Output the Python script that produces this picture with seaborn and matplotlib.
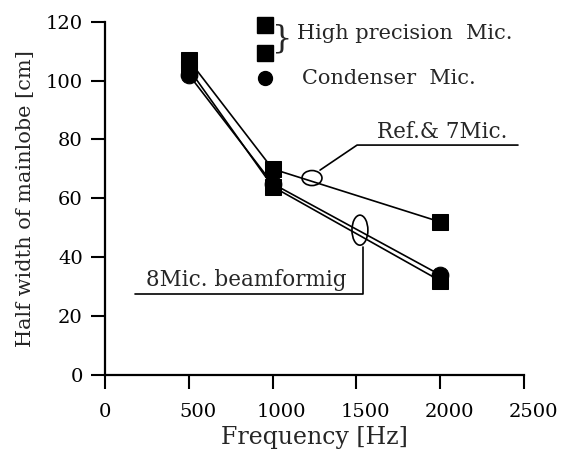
import matplotlib
matplotlib.use("Agg")
import numpy as np
import pandas as pd
import matplotlib.pyplot as plt
import matplotlib.transforms as mtransforms
import seaborn as sns
from matplotlib.patches import Ellipse

# data
freq = [500, 1000, 2000]
ref_7mic = [107, 70, 52]        # Ref.& 7Mic. (high precision)
beam_8mic_hp = [104, 64, 32]    # 8Mic. beamforming (high precision)
beam_8mic_cond = [102, 65, 34]  # 8Mic. beamforming (condenser)

x_ticks = [0, 500, 1000, 1500, 2000, 2500]
y_ticks = [0, 20, 40, 60, 80, 100, 120]

sns.set_style("ticks")
plt.rcParams['font.family'] = ['DejaVu Serif']

fig = plt.figure(figsize=(5.71, 4.57), dpi=100)
ax = fig.add_axes([0.1839, 0.1794, 0.7338, 0.7731])

line_kw = dict(color='black', linewidth=1.2, markeredgecolor='black', ax=ax, legend=False)
sns.lineplot(x=freq, y=ref_7mic, marker='s', markersize=12, **line_kw)
sns.lineplot(x=freq, y=beam_8mic_hp, marker='s', markersize=12, **line_kw)
sns.lineplot(x=freq, y=beam_8mic_cond, marker='o', markersize=12, **line_kw)

ax.set_xlim(0, 2500)
ax.set_ylim(0, 120)
ax.set_xticks(x_ticks)
ax.set_yticks(y_ticks)
ax.tick_params(axis='both', direction='out', length=10, width=1.5, labelsize=14, colors='black')
ax.tick_params(axis='x', pad=10)
ax.tick_params(axis='y', pad=6)
sns.despine(ax=ax)
for s in ['left', 'bottom']:
    ax.spines[s].set_linewidth(1.6)
    ax.spines[s].set_color('black')

# x tick labels sit a little right of their ticks in the reference
shift = mtransforms.ScaledTranslation(9 / 100, 0, fig.dpi_scale_trans)
for lab in ax.get_xticklabels()[1:]:
    lab.set_transform(lab.get_transform() + shift)

ax.set_xlabel('Frequency [Hz]', fontsize=17, labelpad=4)
ax.set_ylabel('Half width of mainlobe [cm]', fontsize=15, labelpad=8)

# legend drawn by hand (squares with brace, circle)
ax.plot([955, 955], [118.8, 109.3], linestyle='none', marker='s', markersize=11,
        color='black', clip_on=False)
ax.plot([955], [100.8], linestyle='none', marker='o', markersize=10,
        color='black', clip_on=False)
ax.text(1058, 114, '}', fontsize=23, ha='center', va='center')
ax.text(1146, 116, 'High precision  Mic.', fontsize=15, ha='left', va='center')
ax.text(1175, 100.8, 'Condenser  Mic.', fontsize=15, ha='left', va='center')

# callout: Ref.& 7Mic.
ax.add_patch(Ellipse((1235, 66.9), 119, 5.1, fill=False, edgecolor='black', linewidth=1.2))
ax.plot([1283, 1504, 2464], [69.6, 78.1, 78.1], color='black', linewidth=1.2)
ax.text(2010, 82.5, 'Ref.& 7Mic.', fontsize=15.5, ha='center', va='center')

# callout: 8Mic. beamforming
ax.add_patch(Ellipse((1521, 49.2), 95, 10.2, fill=False, edgecolor='black', linewidth=1.2))
ax.plot([179, 1539, 1539], [27.5, 27.5, 43.6], color='black', linewidth=1.2)
ax.text(841, 32.3, '8Mic. beamformig', fontsize=15.5, ha='center', va='center')

fig.savefig('out.png', dpi=100)
